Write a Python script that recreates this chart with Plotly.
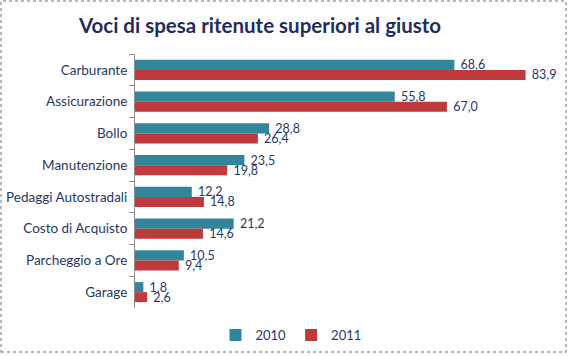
import plotly.graph_objects as go

categories = ["Carburante", "Assicurazione", "Bollo", "Manutenzione",
              "Pedaggi Autostradali", "Costo di Acquisto", "Parcheggio a Ore", "Garage"]
values_2010 = [68.6, 55.8, 28.8, 23.5, 12.2, 21.2, 10.5, 1.8]
values_2011 = [83.9, 67.0, 26.4, 19.8, 14.8, 14.6, 9.4, 2.6]
series_names = ["2010", "2011"]

W, H = 570, 356
L, R, T, B = 135, 16, 54, 48
pw, ph = W - L - R, H - T - B

navy = "#1F3864"
fig = go.Figure()
for name, vals, col in [(series_names[0], values_2010, "#31869B"),
                        (series_names[1], values_2011, "#C0393B")]:
    fig.add_trace(go.Bar(
        y=categories, x=vals, name=name, orientation="h",
        marker=dict(color=col, line=dict(width=0)),
        texttemplate=" %{x:.1f}", textposition="outside", constraintext="none",
        textfont=dict(family="Lato, sans-serif", size=12.5, color=navy),
        cliponaxis=False,
    ))

fig.update_layout(
    template="none",
    width=W, height=H, separators=",.",
    margin=dict(l=L, r=R, t=T, b=B, pad=0),
    paper_bgcolor="white", plot_bgcolor="white",
    barmode="group", bargap=0.37, bargroupgap=0,
    title=dict(text="<b>Voci di spesa ritenute superiori al giusto</b>",
               xref="container", yref="container",
               x=260 / W, xanchor="center", y=1 - 26 / H, yanchor="middle",
               font=dict(family="Lato, sans-serif", size=20.5, color="#1F2D5C")),
    xaxis=dict(range=[0, 90], visible=False, fixedrange=True, automargin=False),
    yaxis=dict(autorange="reversed", showline=True, linecolor="#8C8C8C", linewidth=1,
               ticks="outside", tickson="boundaries", ticklen=5, tickcolor="#8C8C8C",
               showgrid=False, automargin=False, ticklabelstandoff=4, fixedrange=True,
               tickfont=dict(family="Lato, sans-serif", size=13.5, color=navy)),
    legend=dict(orientation="h", xref="container", yref="container",
                x=291 / W, xanchor="center",
                y=(H - 335) / H, yanchor="middle",
                font=dict(family="Lato, sans-serif", size=13, color=navy),
                itemwidth=30, traceorder="normal", bgcolor="rgba(0,0,0,0)"),
    showlegend=True,
    shapes=[dict(type="rect", xref="paper", yref="paper",
                 x0=(1 - L) / pw, x1=(W - 4 - L) / pw,
                 y0=-(H - 4 - T - ph) / ph, y1=1 + (T - 1) / ph,
                 line=dict(color="#A0A0A0", width=1.5, dash="dot"))],
)

fig.write_html("out.html", config={"displayModeBar": False},
               post_script="document.body.style.margin='0';")
